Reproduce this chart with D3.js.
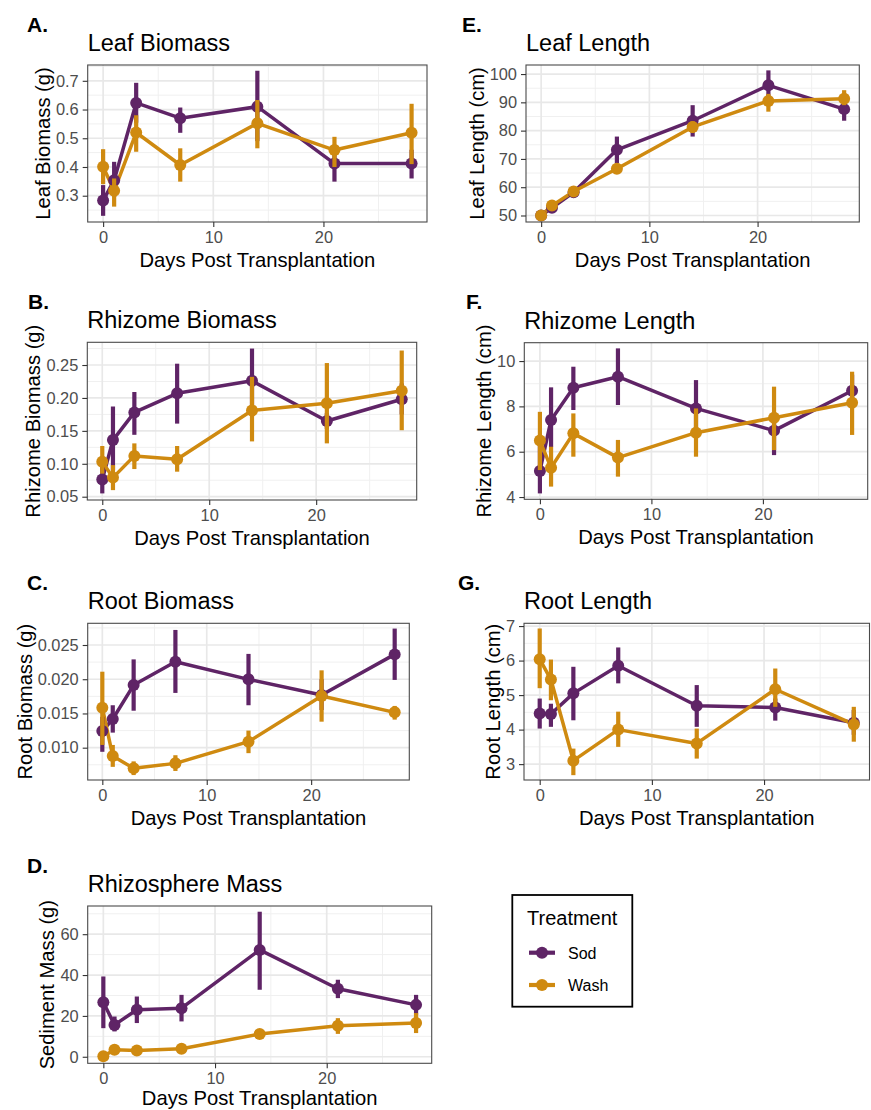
<!DOCTYPE html>
<html>
<head>
<meta charset="utf-8">
<script src="https://cdn.jsdelivr.net/npm/d3@7"></script>
<style>
  html, body { margin: 0; padding: 0; background: #fff; }
  svg { display: block; }
</style>
</head>
<body>
<svg id="chart" width="871" height="1110"></svg>
<script>
// ---------------- DATA ----------------
const days = [0, 1, 3, 7, 14, 21, 28];
const treatments = ["Sod", "Wash"];
const xTicks = [0, 10, 20];

// A. Leaf Biomass (g)
const leafBiomassSod     = [0.283, 0.354, 0.623, 0.570, 0.610, 0.412, 0.412];
const leafBiomassSodLo   = [0.230, 0.296, 0.554, 0.519, 0.490, 0.349, 0.360];
const leafBiomassSodHi   = [0.337, 0.418, 0.693, 0.607, 0.735, 0.470, 0.460];
const leafBiomassWash    = [0.401, 0.317, 0.520, 0.407, 0.552, 0.459, 0.519];
const leafBiomassWashLo  = [0.340, 0.262, 0.453, 0.349, 0.465, 0.400, 0.410];
const leafBiomassWashHi  = [0.462, 0.360, 0.580, 0.465, 0.633, 0.505, 0.620];
const leafBiomassTicks   = [0.3, 0.4, 0.5, 0.6, 0.7];

// B. Rhizome Biomass (g)
const rhizomeBiomassSod    = [0.076, 0.136, 0.178, 0.207, 0.226, 0.165, 0.198];
const rhizomeBiomassSodLo  = [0.055, 0.090, 0.144, 0.161, 0.177, 0.153, 0.175];
const rhizomeBiomassSodHi  = [0.095, 0.187, 0.209, 0.252, 0.275, 0.177, 0.222];
const rhizomeBiomassWash   = [0.103, 0.079, 0.112, 0.107, 0.181, 0.192, 0.211];
const rhizomeBiomassWashLo = [0.085, 0.060, 0.092, 0.088, 0.134, 0.131, 0.151];
const rhizomeBiomassWashHi = [0.127, 0.098, 0.131, 0.127, 0.232, 0.253, 0.272];
const rhizomeBiomassTicks  = [0.05, 0.10, 0.15, 0.20, 0.25];

// C. Root Biomass (g)
const rootBiomassSod    = [0.01243, 0.01419, 0.01915, 0.02256, 0.01998, 0.01769, 0.02363];
const rootBiomassSodLo  = [0.0094, 0.0122, 0.0154, 0.0180, 0.0162, 0.0155, 0.0199];
const rootBiomassSodHi  = [0.0145, 0.0162, 0.0229, 0.0272, 0.0237, 0.0200, 0.0274];
const rootBiomassWash   = [0.01584, 0.00878, 0.00698, 0.00771, 0.01088, 0.01755, 0.01516];
const rootBiomassWashLo = [0.0104, 0.0072, 0.0060, 0.0066, 0.0092, 0.0138, 0.0141];
const rootBiomassWashHi = [0.0211, 0.0104, 0.0080, 0.0089, 0.0125, 0.0213, 0.0161];
const rootBiomassTicks  = [0.010, 0.015, 0.020, 0.025];

// D. Rhizosphere Mass – Sediment Mass (g)
const sedimentSod    = [26.7, 15.6, 23.0, 23.8, 52.3, 33.3, 25.4];
const sedimentSodLo  = [14.0, 12.4, 16.5, 17.3, 32.8, 28.7, 20.5];
const sedimentSodHi  = [39.3, 19.7, 29.5, 30.3, 71.0, 37.7, 30.3];
const sedimentWash   = [0.2, 3.4, 3.1, 3.9, 11.1, 15.2, 16.5];
const sedimentWashLo = [0.0, 2.2, 2.0, 2.5, 9.8, 11.2, 11.6];
const sedimentWashHi = [0.4, 4.6, 4.2, 5.3, 12.4, 18.9, 21.4];
const sedimentTicks  = [0, 20, 40, 60];

// E. Leaf Length (cm)
const leafLengthSod    = [50.0, 52.7, 58.2, 73.2, 83.5, 96.0, 87.6];
const leafLengthSodLo  = [49.2, 51.5, 56.8, 68.5, 77.9, 90.7, 83.5];
const leafLengthSodHi  = [50.8, 53.9, 59.6, 77.9, 89.0, 101.3, 91.3];
const leafLengthWash   = [50.0, 53.5, 58.5, 66.5, 81.3, 90.5, 91.3];
const leafLengthWashLo = [49.3, 52.3, 56.9, 65.0, 79.2, 86.7, 89.0];
const leafLengthWashHi = [50.7, 54.7, 60.1, 68.0, 83.3, 93.0, 94.3];
const leafLengthTicks  = [50, 60, 70, 80, 90, 100];

// F. Rhizome Length (cm)
const rhizomeLengthSod    = [5.15, 7.40, 8.82, 9.31, 7.91, 6.93, 8.69];
const rhizomeLengthSodLo  = [4.16, 6.20, 7.84, 8.06, 6.96, 5.85, 8.10];
const rhizomeLengthSodHi  = [6.40, 8.84, 9.75, 10.56, 9.16, 7.62, 9.40];
const rhizomeLengthWash   = [6.49, 5.29, 6.81, 5.74, 6.84, 7.50, 8.16];
const rhizomeLengthWashLo = [5.19, 4.46, 5.78, 4.90, 5.78, 6.07, 6.74];
const rhizomeLengthWashHi = [7.76, 6.22, 7.69, 6.52, 7.91, 8.87, 9.53];
const rhizomeLengthTicks  = [4, 6, 8, 10];

// G. Root Length (cm)
const rootLengthSod    = [4.47, 4.45, 5.05, 5.85, 4.69, 4.64, 4.20];
const rootLengthSodLo  = [4.03, 4.08, 4.27, 5.34, 4.08, 4.26, 3.85];
const rootLengthSodHi  = [4.90, 4.75, 5.82, 6.38, 5.29, 4.90, 4.57];
const rootLengthWash   = [6.04, 5.45, 3.10, 4.00, 3.60, 5.17, 4.15];
const rootLengthWashLo = [5.20, 4.85, 2.68, 3.50, 3.16, 4.66, 3.65];
const rootLengthWashHi = [6.93, 6.03, 3.45, 4.52, 4.03, 5.77, 4.66];
const rootLengthTicks  = [3, 4, 5, 6, 7];

// ---------------- STYLE / LAYOUT ----------------
const FONT = "'Liberation Sans', Arial, Helvetica, sans-serif";
const colors = { Sod: "#5f2466", Wash: "#cf8a10" };
const xDomain = [-1.4, 29.4];

const panels = [
  { letter: "A.", letterX: 27,  title: "Leaf Biomass", ylab: "Leaf Biomass (g)", box: [87.7, 65, 427, 222], yDomain: [0.2085, 0.755], ticks: leafBiomassTicks, fmt: ".1f",
    sod: [leafBiomassSod, leafBiomassSodLo, leafBiomassSodHi], wash: [leafBiomassWash, leafBiomassWashLo, leafBiomassWashHi] },
  { letter: "B.", letterX: 28,  title: "Rhizome Biomass", ylab: "Rhizome Biomass (g)", box: [87.3, 342.3, 416.7, 500], yDomain: [0.045, 0.2845], ticks: rhizomeBiomassTicks, fmt: ".2f",
    sod: [rhizomeBiomassSod, rhizomeBiomassSodLo, rhizomeBiomassSodHi], wash: [rhizomeBiomassWash, rhizomeBiomassWashLo, rhizomeBiomassWashHi] },
  { letter: "C.", letterX: 27,  title: "Root Biomass", ylab: "Root Biomass (g)", box: [87.7, 623.3, 409.3, 780], yDomain: [0.00528, 0.02817], ticks: rootBiomassTicks, fmt: ".3f",
    sod: [rootBiomassSod, rootBiomassSodLo, rootBiomassSodHi], wash: [rootBiomassWash, rootBiomassWashLo, rootBiomassWashHi] },
  { letter: "D.", letterX: 27,  title: "Rhizosphere Mass", ylab: "Sediment Mass (g)", box: [87.7, 906, 431.7, 1063.3], yDomain: [-3.2, 73.8], ticks: sedimentTicks, fmt: "d",
    sod: [sedimentSod, sedimentSodLo, sedimentSodHi], wash: [sedimentWash, sedimentWashLo, sedimentWashHi], xTitleOffset: 42 },
  { letter: "E.", letterX: 462, title: "Leaf Length", ylab: "Leaf Length (cm)", box: [526, 65, 859.3, 222], yDomain: [47.7, 103.2], ticks: leafLengthTicks, fmt: "d",
    sod: [leafLengthSod, leafLengthSodLo, leafLengthSodHi], wash: [leafLengthWash, leafLengthWashLo, leafLengthWashHi] },
  { letter: "F.", letterX: 466, title: "Rhizome Length", ylab: "Rhizome Length (cm)", box: [524.3, 342.7, 867.7, 499.3], yDomain: [3.9, 10.81], ticks: rhizomeLengthTicks, fmt: "d",
    sod: [rhizomeLengthSod, rhizomeLengthSodLo, rhizomeLengthSodHi], wash: [rhizomeLengthWash, rhizomeLengthWashLo, rhizomeLengthWashHi] },
  { letter: "G.", letterX: 458, title: "Root Length", ylab: "Root Length (cm)", box: [524, 623.3, 869.5, 780], yDomain: [2.54, 7.08], ticks: rootLengthTicks, fmt: "d",
    sod: [rootLengthSod, rootLengthSodLo, rootLengthSodHi], wash: [rootLengthWash, rootLengthWashLo, rootLengthWashHi] }
];

const svg = d3.select("#chart");
svg.append("rect").attr("width", 871).attr("height", 1110).attr("fill", "#fff");

function minorBreaks(ticks, domain) {
  const step = ticks[1] - ticks[0];
  const out = [];
  const all = [ticks[0] - step].concat(ticks);
  all.forEach(t => {
    const m = t + step / 2;
    if (m > domain[0] && m < domain[1]) out.push(m);
  });
  return out;
}

panels.forEach(p => {
  const [x0, y0, x1, y1] = p.box;
  const x = d3.scaleLinear().domain(xDomain).range([x0, x1]);
  const y = d3.scaleLinear().domain(p.yDomain).range([y1, y0]);
  const g = svg.append("g");

  g.append("rect").attr("x", x0).attr("y", y0).attr("width", x1 - x0).attr("height", y1 - y0).attr("fill", "#fff");

  // minor grid
  const xMinor = minorBreaks(xTicks, xDomain);
  const yMinor = minorBreaks(p.ticks, p.yDomain);
  g.selectAll(".xminor").data(xMinor).join("line")
    .attr("x1", d => x(d)).attr("x2", d => x(d)).attr("y1", y0).attr("y2", y1)
    .attr("stroke", "#f0f0f0").attr("stroke-width", 1);
  g.selectAll(".yminor").data(yMinor).join("line")
    .attr("y1", d => y(d)).attr("y2", d => y(d)).attr("x1", x0).attr("x2", x1)
    .attr("stroke", "#f0f0f0").attr("stroke-width", 1);
  // major grid
  g.selectAll(".xmajor").data(xTicks).join("line")
    .attr("x1", d => x(d)).attr("x2", d => x(d)).attr("y1", y0).attr("y2", y1)
    .attr("stroke", "#e8e8e8").attr("stroke-width", 1.7);
  g.selectAll(".ymajor").data(p.ticks).join("line")
    .attr("y1", d => y(d)).attr("y2", d => y(d)).attr("x1", x0).attr("x2", x1)
    .attr("stroke", "#e8e8e8").attr("stroke-width", 1.7);

  // series
  const series = [
    { name: "Sod", vals: p.sod },
    { name: "Wash", vals: p.wash }
  ];
  const line = d3.line().x(d => x(d.day)).y(d => y(d.mean));
  const rows = series.map(s => ({
    name: s.name,
    pts: days.map((d, i) => ({ day: d, mean: s.vals[0][i], lo: s.vals[1][i], hi: s.vals[2][i] }))
  }));
  rows.forEach(r => {
    g.append("path").datum(r.pts).attr("d", line)
      .attr("fill", "none").attr("stroke", colors[r.name]).attr("stroke-width", 3.5)
      .attr("stroke-linejoin", "round");
  });
  rows.forEach(r => {
    g.selectAll(null).data(r.pts).join("line")
      .attr("x1", d => x(d.day)).attr("x2", d => x(d.day))
      .attr("y1", d => y(d.lo)).attr("y2", d => y(d.hi))
      .attr("stroke", colors[r.name]).attr("stroke-width", 4.2);
    g.selectAll(null).data(r.pts).join("circle")
      .attr("cx", d => x(d.day)).attr("cy", d => y(d.mean)).attr("r", 6)
      .attr("fill", colors[r.name]);
  });

  // border
  g.append("rect").attr("x", x0).attr("y", y0).attr("width", x1 - x0).attr("height", y1 - y0)
    .attr("fill", "none").attr("stroke", "#4a4a4a").attr("stroke-width", 1.1);

  // x axis
  const xAxis = d3.axisBottom(x).tickValues(xTicks).tickSize(5).tickPadding(4).tickFormat(d3.format("d"));
  const gx = g.append("g").attr("transform", `translate(0,${y1})`).call(xAxis);
  gx.select(".domain").remove();
  gx.selectAll(".tick line").attr("stroke", "#333").attr("stroke-width", 1.1);
  gx.selectAll(".tick text").attr("fill", "#4d4d4d").attr("font-size", 16.4).attr("font-family", FONT);

  // y axis
  const yAxis = d3.axisLeft(y).tickValues(p.ticks).tickSize(5).tickPadding(4).tickFormat(d3.format(p.fmt));
  const gy = g.append("g").attr("transform", `translate(${x0},0)`).call(yAxis);
  gy.select(".domain").remove();
  gy.selectAll(".tick line").attr("stroke", "#333").attr("stroke-width", 1.1);
  gy.selectAll(".tick text").attr("fill", "#4d4d4d").attr("font-size", 16.4).attr("font-family", FONT);

  let maxW = 0;
  gy.selectAll(".tick text").each(function () { maxW = Math.max(maxW, this.getComputedTextLength()); });

  // axis titles
  g.append("text").attr("x", (x0 + x1) / 2).attr("y", y1 + (p.xTitleOffset || 44.5))
    .attr("text-anchor", "middle").attr("font-family", FONT).attr("font-size", 20.2).attr("fill", "#000")
    .text("Days Post Transplantation");
  const yt = x0 - 9 - maxW - 6;
  g.append("text").attr("transform", `translate(${yt},${(y0 + y1) / 2}) rotate(-90)`)
    .attr("text-anchor", "middle").attr("font-family", FONT).attr("font-size", 20.2).attr("fill", "#000")
    .text(p.ylab);

  // title + panel letter
  g.append("text").attr("x", x0).attr("y", y0 - 14)
    .attr("font-family", FONT).attr("font-size", 23.5).attr("fill", "#000").text(p.title);
  g.append("text").attr("x", p.letterX).attr("y", y0 - 33.5)
    .attr("font-family", FONT).attr("font-size", 21).attr("font-weight", "bold").attr("fill", "#000").text(p.letter);
});

// ---------------- LEGEND ----------------
const lg = svg.append("g");
lg.append("rect").attr("x", 512.3).attr("y", 895).attr("width", 120).attr("height", 111.7)
  .attr("fill", "#fff").attr("stroke", "#000").attr("stroke-width", 1.8);
lg.append("text").attr("x", 527).attr("y", 925).attr("font-family", FONT).attr("font-size", 20).attr("fill", "#000").text("Treatment");
const keyY = d3.scalePoint().domain(treatments).range([952.7, 985]);
treatments.forEach(t => {
  const ky = keyY(t);
  lg.append("line").attr("x1", 529).attr("x2", 555).attr("y1", ky).attr("y2", ky)
    .attr("stroke", colors[t]).attr("stroke-width", 4.2);
  lg.append("circle").attr("cx", 542).attr("cy", ky).attr("r", 6).attr("fill", colors[t]);
  lg.append("text").attr("x", 568).attr("y", ky + 5.8).attr("font-family", FONT).attr("font-size", 16).attr("fill", "#000").text(t);
});
</script>
</body>
</html>
